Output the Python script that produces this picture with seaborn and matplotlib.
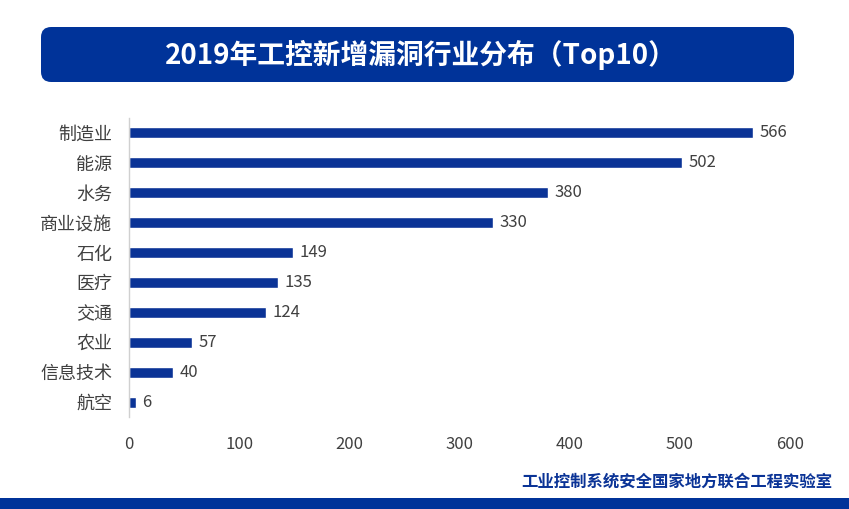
import matplotlib.pyplot as plt
import seaborn as sns
import pandas as pd
from matplotlib.patches import FancyBboxPatch, Rectangle

# data
industries = ['制造业', '能源', '水务', '商业设施', '石化', '医疗', '交通', '农业', '信息技术', '航空']
counts = [566, 502, 380, 330, 149, 135, 124, 57, 40, 6]
x_ticks = [0, 100, 200, 300, 400, 500, 600]

title = '2019年工控新增漏洞行业分布（Top10）'
footer = '工业控制系统安全国家地方联合工程实验室'

blue = '#0a3396'
text_grey = '#404040'

df = pd.DataFrame({'industry': industries, 'count': counts})

sns.set_style('white')
plt.rcParams['font.family'] = ['Noto Sans CJK SC', 'DejaVu Sans']

fig = plt.figure(figsize=(8.49, 5.09), dpi=100)
ax = fig.add_axes([129 / 849, 92 / 509, 661 / 849, 299 / 509])

sns.barplot(data=df, x='count', y='industry', orient='h', color=blue,
            width=0.37, saturation=1, ax=ax)

for i, v in enumerate(counts):
    ax.text(v + 6, i, str(v), va='center', ha='left', fontsize=12, color=text_grey)

ax.set_xlim(0, 600)
ax.set_ylim(9.5, -0.5)
ax.set_xticks(x_ticks)
ax.set_xlabel('')
ax.set_ylabel('')
ax.tick_params(axis='x', length=0, labelsize=12, colors=text_grey, pad=14)
ax.tick_params(axis='y', length=0, labelsize=13, colors=text_grey, pad=12)
for s in ['top', 'right', 'bottom']:
    ax.spines[s].set_visible(False)
ax.spines['left'].set_color('#d0d0d0')
ax.spines['left'].set_linewidth(1)

# title banner
banner = FancyBboxPatch((41 / 849, (509 - 82) / 509), 753 / 849, 55 / 509,
                        boxstyle='round,pad=0,rounding_size=0.012',
                        transform=fig.transFigure, facecolor='#003399',
                        edgecolor='none', mutation_aspect=849 / 509)
fig.patches.append(banner)
fig.text(421 / 849, (509 - 55) / 509, title, ha='center', va='center',
         fontsize=20, fontweight='bold', color='white')

# footer
fig.patches.append(Rectangle((0, 0), 1, 11 / 509, transform=fig.transFigure,
                             facecolor='#003399', edgecolor='none'))
fig.text(832 / 849, (509 - 482) / 509, footer, ha='right', va='center',
         fontsize=11.8, fontweight='bold', color='#0a3396')

fig.savefig('out.png', dpi=100)
